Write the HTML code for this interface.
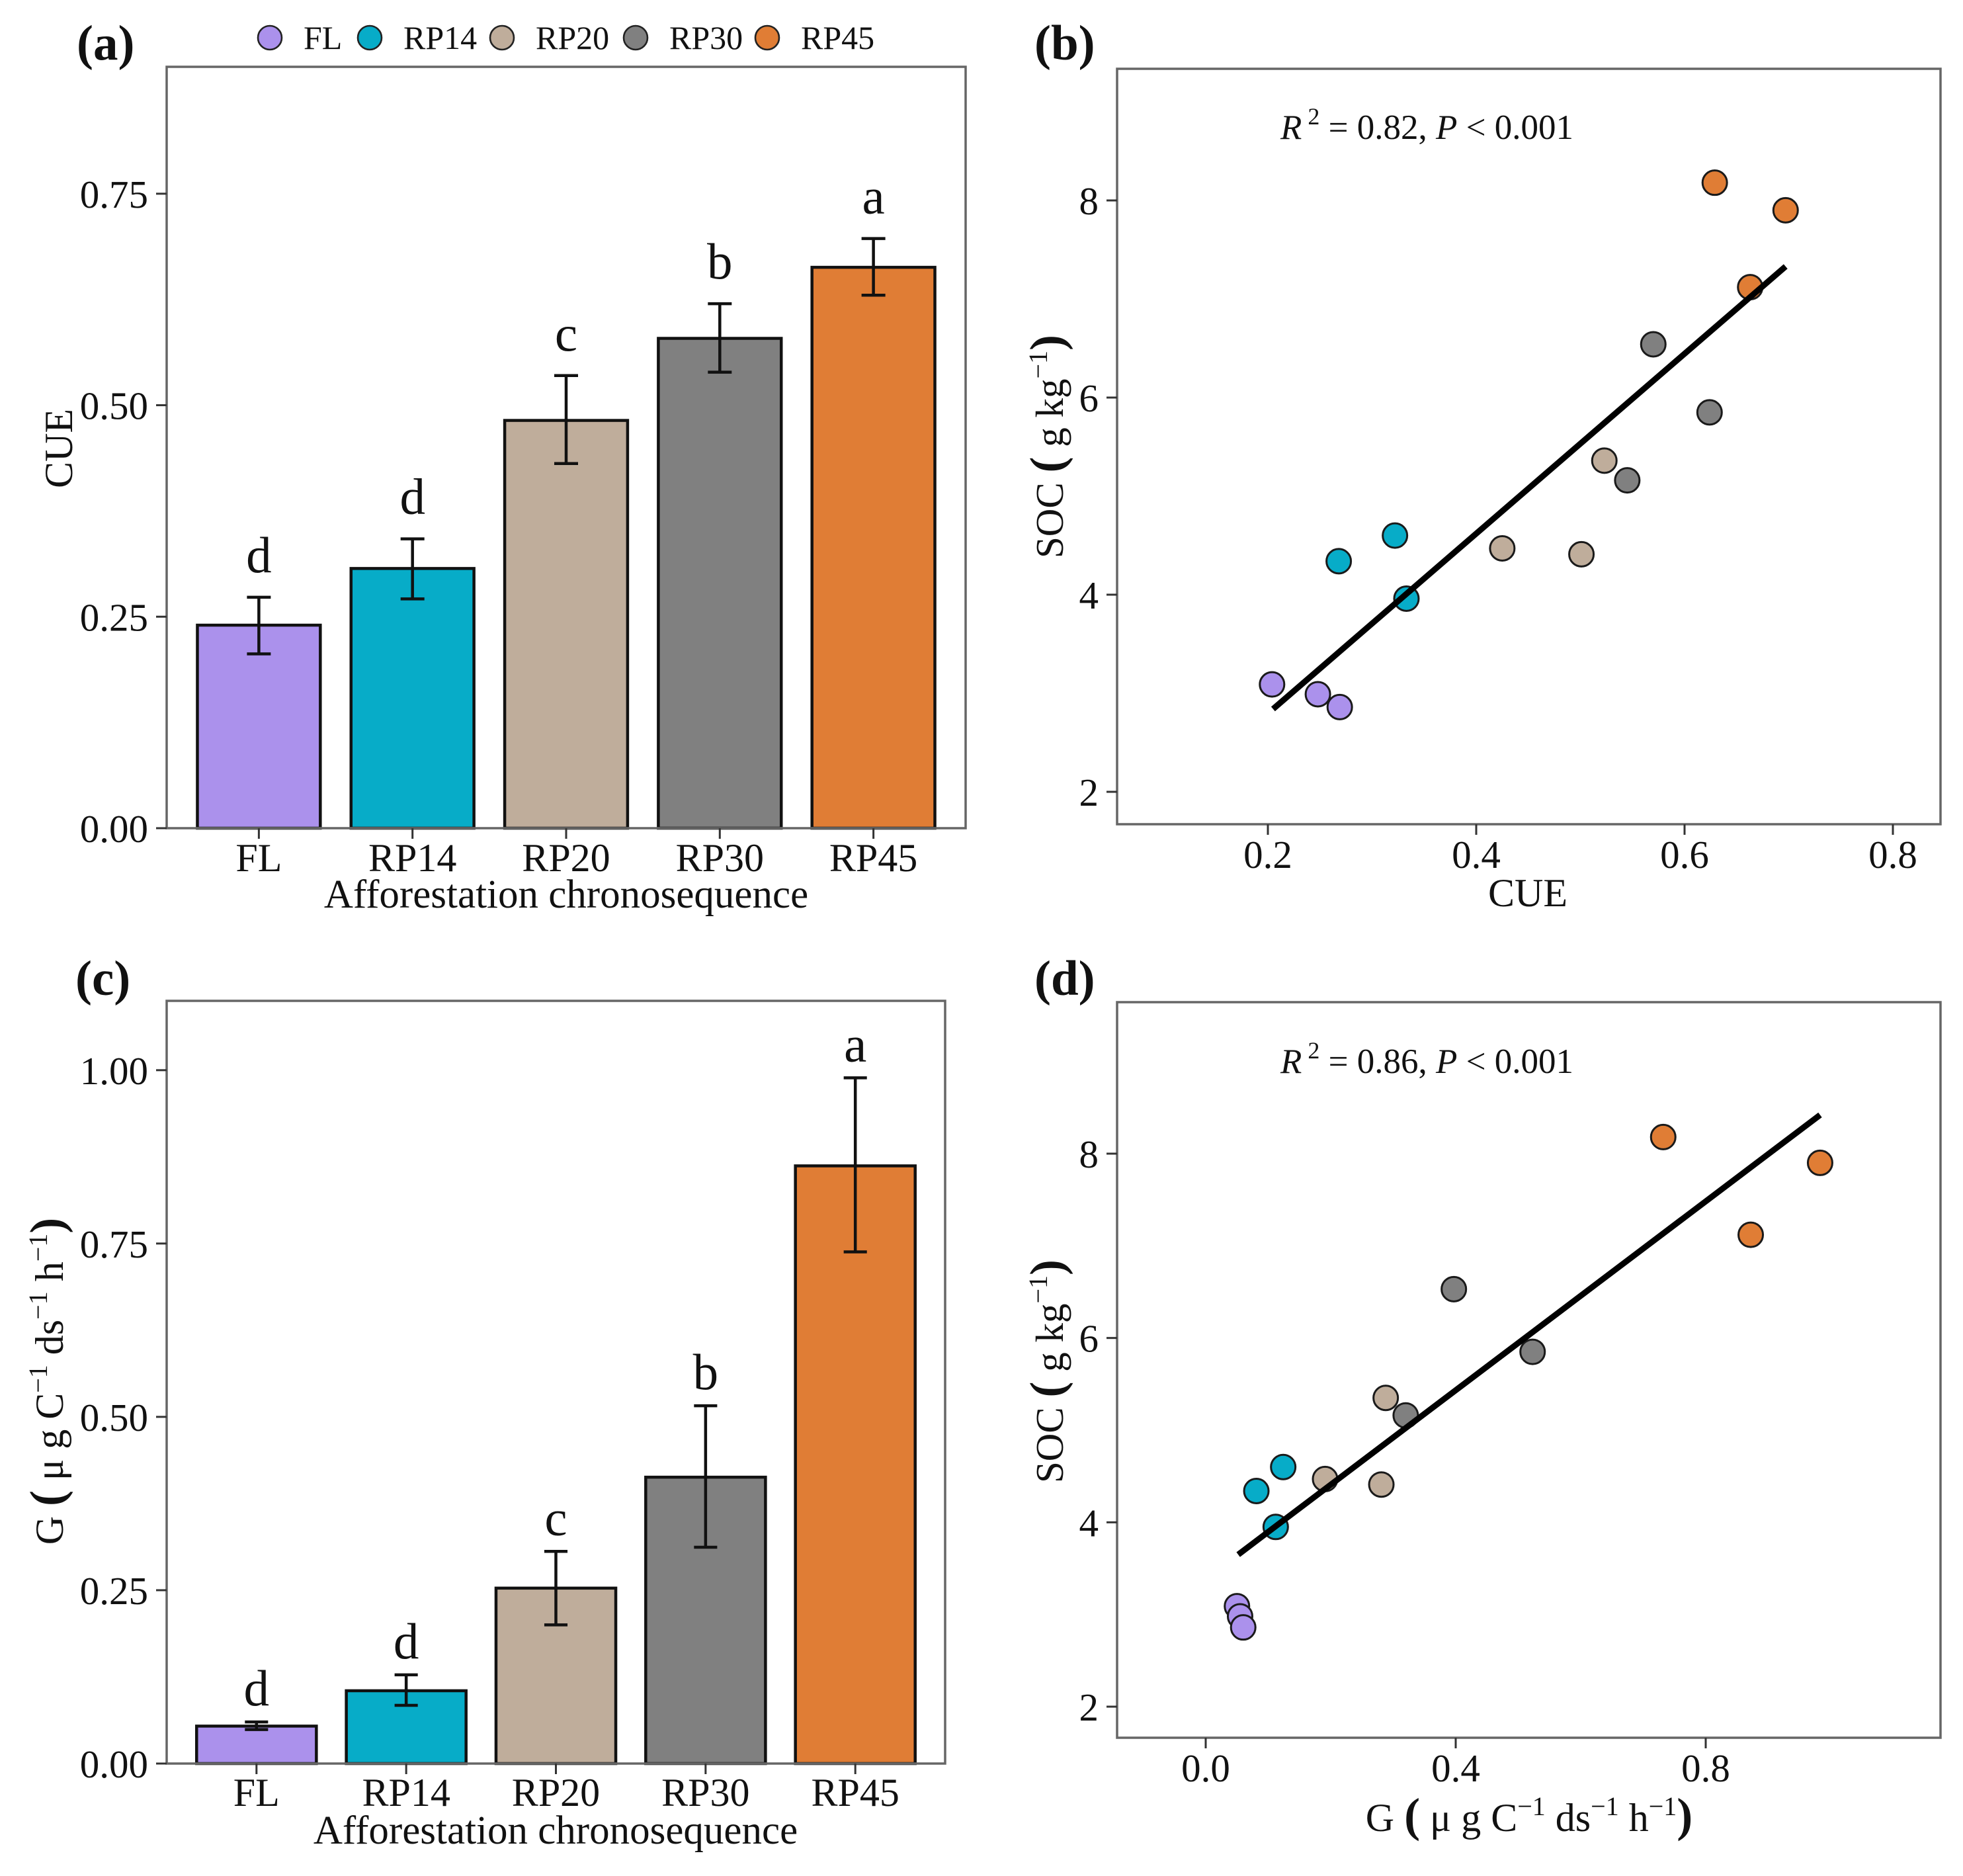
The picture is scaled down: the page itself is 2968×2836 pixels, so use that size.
<!DOCTYPE html>
<html lang="en">
<head>
<meta charset="utf-8">
<title>CUE, G and SOC along the afforestation chronosequence</title>
<style>
  html, body { margin: 0; padding: 0; background: #ffffff; }
  svg { display: block; }
  text { font-family: "Liberation Serif", serif; fill: #111111; }
</style>
</head>
<body>
<svg id="figure" xmlns="http://www.w3.org/2000/svg" width="2968" height="2836" viewBox="0 0 2968 2836">
  <rect x="0" y="0" width="2968" height="2836" fill="#ffffff"></rect>

  <text x="116" y="90" font-size="75" font-weight="bold">(a)</text>
  <text x="1564" y="90" font-size="75" font-weight="bold">(b)</text>
  <text x="114" y="1504" font-size="75" font-weight="bold">(c)</text>
  <text x="1564" y="1504" font-size="75" font-weight="bold">(d)</text>

  <text x="856" y="1372" font-size="61" text-anchor="middle">Afforestation chronosequence</text>
  <text transform="translate(109,678) rotate(-90)" font-size="60" text-anchor="middle">CUE</text>

  <text x="2310" y="1370" font-size="60" text-anchor="middle">CUE</text>
  <text transform="translate(1607,675) rotate(-90)" font-size="59" text-anchor="middle">SOC <tspan font-size="72" font-weight="bold">(</tspan><tspan> g kg</tspan><tspan font-size="40" dy="-24">&#8722;1</tspan><tspan font-size="72" font-weight="bold" dy="24">)</tspan></text>
  <text x="1936" y="210" font-size="53"><tspan font-style="italic">R</tspan><tspan font-size="36" dy="-22"> 2</tspan><tspan dy="22"> = 0.82, </tspan><tspan font-style="italic">P</tspan><tspan> &lt; 0.001</tspan></text>

  <text x="840" y="2787" font-size="61" text-anchor="middle">Afforestation chronosequence</text>
  <text transform="translate(95,2088) rotate(-90)" font-size="60" text-anchor="middle">G <tspan font-size="72" font-weight="bold">(</tspan><tspan> &#956; g C</tspan><tspan font-size="40" dy="-24">&#8722;1</tspan><tspan dy="24"> ds</tspan><tspan font-size="40" dy="-24">&#8722;1</tspan><tspan dy="24"> h</tspan><tspan font-size="40" dy="-24">&#8722;1</tspan><tspan font-size="72" font-weight="bold" dy="24">)</tspan></text>

  <text x="2312" y="2768" font-size="60" text-anchor="middle">G <tspan font-size="72" font-weight="bold">(</tspan><tspan> &#956; g C</tspan><tspan font-size="40" dy="-24">&#8722;1</tspan><tspan dy="24"> ds</tspan><tspan font-size="40" dy="-24">&#8722;1</tspan><tspan dy="24"> h</tspan><tspan font-size="40" dy="-24">&#8722;1</tspan><tspan font-size="72" font-weight="bold" dy="24">)</tspan></text>
  <text transform="translate(1607,2073) rotate(-90)" font-size="59" text-anchor="middle">SOC <tspan font-size="72" font-weight="bold">(</tspan><tspan> g kg</tspan><tspan font-size="40" dy="-24">&#8722;1</tspan><tspan font-size="72" font-weight="bold" dy="24">)</tspan></text>
  <text x="1936" y="1622" font-size="53"><tspan font-style="italic">R</tspan><tspan font-size="36" dy="-22"> 2</tspan><tspan dy="22"> = 0.86, </tspan><tspan font-style="italic">P</tspan><tspan> &lt; 0.001</tspan></text>
</svg>

<script>
// ---- Data ----
const categories = ['FL', 'RP14', 'RP20', 'RP30', 'RP45'];
const groupColors = ['#AB91EC', '#07ACC8', '#BFAD9B', '#808080', '#E07D35'];

const cueMeans = [0.240, 0.307, 0.482, 0.579, 0.663];
const cueUpper = [0.273, 0.342, 0.535, 0.620, 0.697];
const cueLower = [0.206, 0.271, 0.431, 0.539, 0.630];
const cueLetters = ['d', 'd', 'c', 'b', 'a'];
const cueTicks = ['0.00', '0.25', '0.50', '0.75'];

const gMeans = [0.054, 0.105, 0.253, 0.413, 0.862];
const gUpper = [0.060, 0.128, 0.306, 0.516, 0.989];
const gLower = [0.049, 0.084, 0.200, 0.312, 0.738];
const gLetters = ['d', 'd', 'c', 'b', 'a'];
const gTicks = ['0.00', '0.25', '0.50', '0.75', '1.00'];

const sampleGroups = [0, 0, 0, 1, 1, 1, 2, 2, 2, 3, 3, 3, 4, 4, 4];
const sampleCue = [0.204, 0.248, 0.269, 0.268, 0.322, 0.333, 0.425, 0.501, 0.523, 0.570, 0.624, 0.545, 0.629, 0.697, 0.663];
const sampleSocB = [3.09, 2.99, 2.86, 4.34, 4.60, 3.96, 4.47, 4.41, 5.36, 6.54, 5.85, 5.16, 8.18, 7.90, 7.12];
const sampleG = [0.050, 0.055, 0.060, 0.081, 0.124, 0.112, 0.191, 0.281, 0.288, 0.397, 0.523, 0.320, 0.732, 0.983, 0.872];
const sampleSocD = [3.09, 2.98, 2.86, 4.34, 4.60, 3.95, 4.47, 4.41, 5.35, 6.53, 5.85, 5.16, 8.18, 7.90, 7.12];

const fitCueX = [0.205, 0.697];
const fitCueY = [2.84, 7.33];
const fitGX = [0.052, 0.983];
const fitGY = [3.65, 8.42];

const socTicks = ['2', '4', '6', '8'];
const cueAxisTicks = ['0.2', '0.4', '0.6', '0.8'];
const gAxisTicks = ['0.0', '0.4', '0.8'];

// ---- Drawing helpers ----
const SVG_NS = 'http://www.w3.org/2000/svg';
const root = document.getElementById('figure');

function linear(d0, d1, r0, r1) {
  return function (v) { return r0 + (v - d0) / (d1 - d0) * (r1 - r0); };
}
function mark(tag, name, attrs) {
  const el = document.createElementNS(SVG_NS, tag);
  
  
  for (const key in attrs) { el.setAttribute(key, attrs[key]); }
  root.appendChild(el);
  return el;
}
function label(name, x, y, text, size, anchor) {
  const el = mark('text', name, { x: x, y: y, 'font-size': size, 'text-anchor': anchor });
  el.textContent = text;
  return el;
}
function frame(prefix, box) {
  mark('rect', prefix + '-plot-frame', {
    x: box.left, y: box.top, width: box.right - box.left, height: box.bottom - box.top,
    fill: 'none', stroke: '#666666', 'stroke-width': 3.5
  });
}
function yTicks(prefix, box, scale, ticks) {
  ticks.forEach(function (t) {
    const y = scale(parseFloat(t));
    mark('line', prefix + '-y-tick-' + t, { x1: box.left - 16, x2: box.left, y1: y, y2: y, stroke: '#333333', 'stroke-width': 3 });
    label(prefix + '-y-tick-label-' + t, box.left - 28, y + 21, t, 59, 'end');
  });
}
function xTicksNumeric(prefix, box, scale, ticks, baseline) {
  ticks.forEach(function (t) {
    const x = scale(parseFloat(t));
    mark('line', prefix + '-x-tick-' + t, { x1: x, x2: x, y1: box.bottom, y2: box.bottom + 16, stroke: '#333333', 'stroke-width': 3 });
    label(prefix + '-x-tick-label-' + t, x, baseline, t, 59, 'middle');
  });
}
function barPanel(prefix, box, yMax, means, upper, lower, letters, ticks, tickBaseline, letterGap) {
  const step = (box.right - box.left) / (categories.length + 0.2);
  const xScale = function (i) { return box.left + step * (i + 0.6); };
  const yScale = linear(0, yMax, box.bottom, box.top);
  const barW = step * 0.8;
  const capW = step * 0.155;
  categories.forEach(function (c, i) {
    const x = xScale(i);
    const top = yScale(means[i]);
    mark('rect', prefix + '-bar-' + c, {
      x: x - barW / 2, y: top, width: barW, height: box.bottom - top,
      fill: groupColors[i], stroke: '#111111', 'stroke-width': 4.5
    });
  });
  frame(prefix, box);
  categories.forEach(function (c, i) {
    const x = xScale(i);
    const yHi = yScale(upper[i]);
    const yLo = yScale(lower[i]);
    mark('line', prefix + '-error-stem-' + c, { x1: x, x2: x, y1: yHi, y2: yLo, stroke: '#111111', 'stroke-width': 4.5 });
    mark('line', prefix + '-error-cap-upper-' + c, { x1: x - capW / 2, x2: x + capW / 2, y1: yHi, y2: yHi, stroke: '#111111', 'stroke-width': 4.5 });
    mark('line', prefix + '-error-cap-lower-' + c, { x1: x - capW / 2, x2: x + capW / 2, y1: yLo, y2: yLo, stroke: '#111111', 'stroke-width': 4.5 });
    label(prefix + '-significance-letter-' + c, x, yHi - letterGap, letters[i], 77, 'middle');
    mark('line', prefix + '-x-tick-' + c, { x1: x, x2: x, y1: box.bottom, y2: box.bottom + 16, stroke: '#333333', 'stroke-width': 3 });
    label(prefix + '-x-tick-label-' + c, x, tickBaseline, c, 60, 'middle');
  });
  yTicks(prefix, box, yScale, ticks);
}
function scatterPanel(prefix, box, xs, ys, fitX, fitY, xScale, yScale, xTickLabels, yTickLabels, xBaseline) {
  frame(prefix, box);
  xTicksNumeric(prefix, box, xScale, xTickLabels, xBaseline);
  yTicks(prefix, box, yScale, yTickLabels);
  xs.forEach(function (v, i) {
    mark('circle', prefix + '-point-' + categories[sampleGroups[i]] + '-' + (i % 3 + 1), {
      cx: xScale(v), cy: yScale(ys[i]), r: 18.5,
      fill: groupColors[sampleGroups[i]], stroke: '#1a1a1a', 'stroke-width': 3
    });
  });
  mark('line', prefix + '-regression-line', {
    x1: xScale(fitX[0]), y1: yScale(fitY[0]), x2: xScale(fitX[1]), y2: yScale(fitY[1]),
    stroke: '#000000', 'stroke-width': 9
  });
}

// ---- Panels ----
const boxA = { left: 252, right: 1460, top: 101, bottom: 1252 };
barPanel('panel-a', boxA, 0.90, cueMeans, cueUpper, cueLower, cueLetters, cueTicks, 1317, 38);

const boxC = { left: 252, right: 1429, top: 1513, bottom: 2666 };
barPanel('panel-c', boxC, 1.10, gMeans, gUpper, gLower, gLetters, gTicks, 2730, 25);

const boxB = { left: 1689, right: 2934, top: 104, bottom: 1246 };
scatterPanel('panel-b', boxB, sampleCue, sampleSocB, fitCueX, fitCueY,
  linear(0.2, 0.8, 1917, 2862), linear(2, 8, 1197, 303), cueAxisTicks, socTicks, 1312);

const boxD = { left: 1689, right: 2934, top: 1515, bottom: 2627 };
scatterPanel('panel-d', boxD, sampleG, sampleSocD, fitGX, fitGY,
  linear(0, 0.8, 1823, 2579), linear(2, 8, 2580, 1744), gAxisTicks, socTicks, 2693);

// ---- Legend ----
const legendDotX = [408, 559, 759, 961, 1160];
categories.forEach(function (c, i) {
  mark('circle', 'legend-swatch-' + c, {
    cx: legendDotX[i], cy: 57, r: 18,
    fill: groupColors[i], stroke: '#222222', 'stroke-width': 2.6
  });
  label('legend-label-' + c, legendDotX[i] + 51, 74, c, 50, 'start');
});
</script>
</body>
</html>
